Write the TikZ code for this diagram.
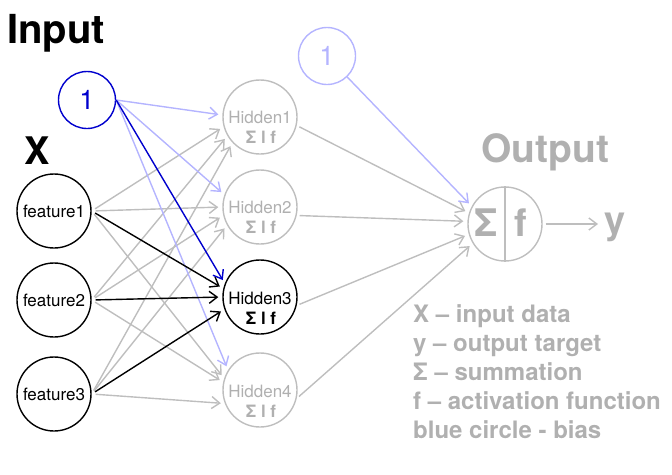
\documentclass[tikz,border=0pt]{standalone}
\usepackage{fontspec}
\setmainfont{TeX Gyre Heros}
\usetikzlibrary{arrows.meta}
\definecolor{lg}{HTML}{BEBEBE}
\definecolor{tg}{HTML}{B0B0B0}
\definecolor{db}{HTML}{0000CD}
\definecolor{lb}{HTML}{B4B4FF}
\tikzset{
  neuron/.style={circle, draw, line width=1.4pt, minimum size=74pt, inner sep=0pt},
  biasnode/.style={circle, draw, line width=1.4pt, minimum size=57pt, inner sep=0pt, font=\fontsize{27}{30}\selectfont},
  arr/.style={-{Straight Barb[length=8pt,width=12pt]}, line width=1.4pt, shorten >=4pt},
  ftxt/.style={font=\fontsize{17}{20}\selectfont},
  htxt/.style={anchor=base, inner sep=0pt, font=\fontsize{17}{20}\selectfont},
  hsym/.style={anchor=base, inner sep=0pt, font=\fontsize{17}{20}\selectfont\bfseries},
  legend/.style={anchor=base west, inner sep=0pt, text=tg, font=\fontsize{24}{29}\selectfont\bfseries},
  big/.style={anchor=base west, inner sep=0pt, font=\fontsize{40}{44}\selectfont\bfseries}
}
\begin{document}
\begin{tikzpicture}[x=1pt,y=-1pt]
\useasboundingbox (0,0) rectangle (672,474);

% titles
\node[big] (tin) at (7,43) {Input};
\node[big, font=\fontsize{38}{42}\selectfont\bfseries] (tx) at (24,164) {X};
\node[big, text=tg, font=\fontsize{39}{42}\selectfont\bfseries] (tout) at (481,162) {Output};

% input layer
\node[neuron, ftxt] (f1) at (54,211) {feature1};
\node[neuron, ftxt] (f2) at (54,300) {feature2};
\node[neuron, ftxt] (f3) at (54,394) {feature3};
\node[biasnode, draw=db, text=db] (b1) at (87,100) {1};

% hidden layer
\node[neuron, draw=lg] (h1) at (260,117) {};
\node[neuron, draw=lg] (h2) at (260,207) {};
\node[neuron, draw=black] (h3) at (260,297) {};
\node[neuron, draw=lg] (h4) at (260,390) {};
\node[htxt, text=tg] (h1a) at (260,123) {Hidden1};
\node[hsym, text=tg] (h1b) at (261,143) {Σ l f};
\node[htxt, text=tg] (h2a) at (260,213) {Hidden2};
\node[hsym, text=tg] (h2b) at (261,233) {Σ l f};
\node[htxt] (h3a) at (260,304) {Hidden3};
\node[hsym] (h3b) at (261,324) {Σ l f};
\node[htxt, text=tg] (h4a) at (260,397) {Hidden4};
\node[hsym, text=tg] (h4b) at (261,417) {Σ l f};

% output
\node[biasnode, draw=lb, text=lb] (b2) at (327,56) {1};
\node[neuron, draw=lg] (out) at (505,224) {};
\draw[lg, line width=1.4pt] (out.north) -- (out.south);
\node[anchor=base, inner sep=0pt, text=tg, font=\fontsize{38}{40}\selectfont\bfseries] (sig) at (486,236) {Σ};
\node[anchor=base, inner sep=0pt, text=tg, font=\fontsize{38}{40}\selectfont\bfseries] (fo) at (521,236) {f};
\node[anchor=base west, inner sep=0pt, text=tg, font=\fontsize{38}{40}\selectfont\bfseries] (ylab) at (604,233) {y};

% gray input->hidden edges
\draw[arr, lg, shorten <=4pt] (f1.east) -- (h1.195);
\draw[arr, lg, shorten <=4pt] (f1.east) -- (h2.180);
\draw[arr, lg, shorten <=4pt] (f1.east) -- (h4.162);
\draw[arr, lg, shorten <=4pt] (f2.east) -- (h1.210);
\draw[arr, lg, shorten <=4pt] (f2.east) -- (h2.193);
\draw[arr, lg, shorten <=4pt] (f2.east) -- (h4.168);
\draw[arr, lg, shorten <=4pt] (f3.east) -- (h1.223);
\draw[arr, lg, shorten <=4pt] (f3.east) -- (h2.209);
\draw[arr, lg, shorten <=4pt] (f3.east) -- (h4.201);

% hidden -> output
\draw[arr, lg, shorten <=3pt] (h1.347) -- (out.163);
\draw[arr, lg, shorten <=3pt] (h2.347) -- (out.176);
\draw[arr, lg, shorten <=3pt] (h3.347) -- (out.196);
\draw[arr, lg, shorten <=3pt] (h4.347) -- (out.211);
\draw[arr, lg, shorten <=3pt, shorten >=6pt] (out.east) -- (out.east -| ylab.west);

% light blue bias edges
\draw[arr, lb] (b1.east) -- (h1.177);
\draw[arr, lb] (b1.east) -- (h2.161);
\draw[arr, lb] (b1.east) -- (h4.148);
\draw[arr, lb] (b2) -- (out.152);

% black edges to Hidden3
\draw[arr, black, shorten <=4pt] (f1.east) -- (h3.167);
\draw[arr, black, shorten <=4pt] (f2.east) -- (h3.180);
\draw[arr, black, shorten <=4pt] (f3.east) -- (h3.199);
\draw[arr, db] (b1.east) -- (h3.159);

% legend
\node[legend] (l1) at (413,322) {X – input data};
\node[legend] (l2) at (413,351) {y – output target};
\node[legend] (l3) at (413,380) {Σ – summation};
\node[legend] (l4) at (413,409) {f – activation function};
\node[legend] (l5) at (413,438) {blue circle - bias};
\end{tikzpicture}
\end{document}
